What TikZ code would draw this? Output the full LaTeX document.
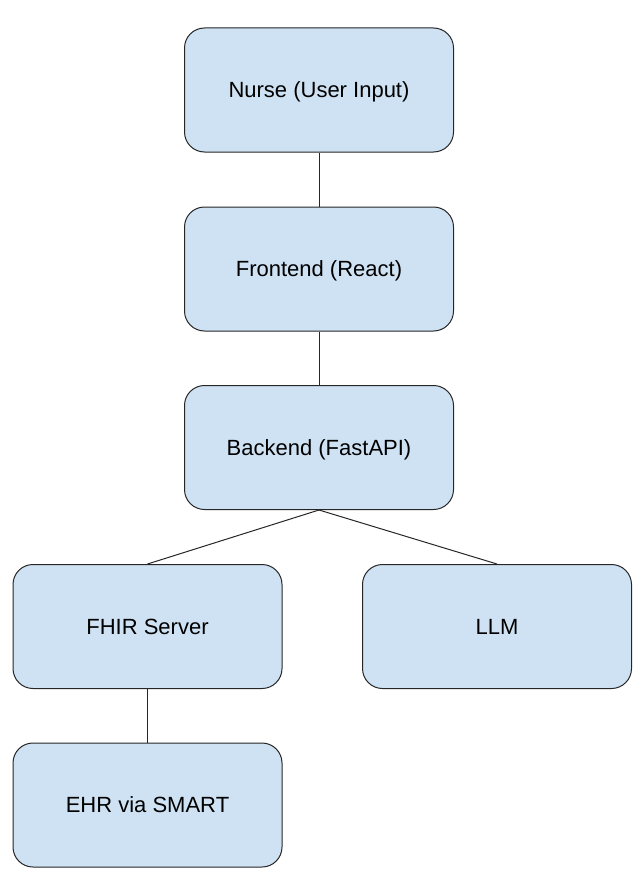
\documentclass[tikz,border=0pt]{standalone}
\usepackage{fontspec}
\setmainfont{Liberation Sans}
\definecolor{boxblue}{HTML}{CFE2F3}
\tikzset{
    block/.style={draw=black!85, line width=1pt, fill=boxblue, rounded corners=20pt,
        minimum width=269pt, minimum height=124pt, inner sep=0pt,
        text depth=0pt, font=\fontsize{22}{26}\selectfont},
    link/.style={draw=black!85, line width=1pt}
}
\begin{document}
\begin{tikzpicture}[x=1pt, y=-1pt]
    \useasboundingbox (0, 0) rectangle (644, 888);
    % main chain
    \node[block] (nurse) at (319, 90) {Nurse (User Input)};
    \node[block] (frontend) at (319, 269) {Frontend (React)};
    \node[block] (backend) at (319, 447.5) {Backend (FastAPI)};
    % services
    \node[block] (fhir) at (147.5, 626.5) {FHIR Server};
    \node[block] (llm) at (497, 626.5) {LLM};
    \node[block] (ehr) at (147.5, 805) {EHR via SMART};

    \draw[link] (nurse) -- (frontend);
    \draw[link] (frontend) -- (backend);
    \draw[link] (backend.south) -- (fhir.north);
    \draw[link] (backend.south) -- (llm.north);
    \draw[link] (fhir) -- (ehr);
\end{tikzpicture}
\end{document}
